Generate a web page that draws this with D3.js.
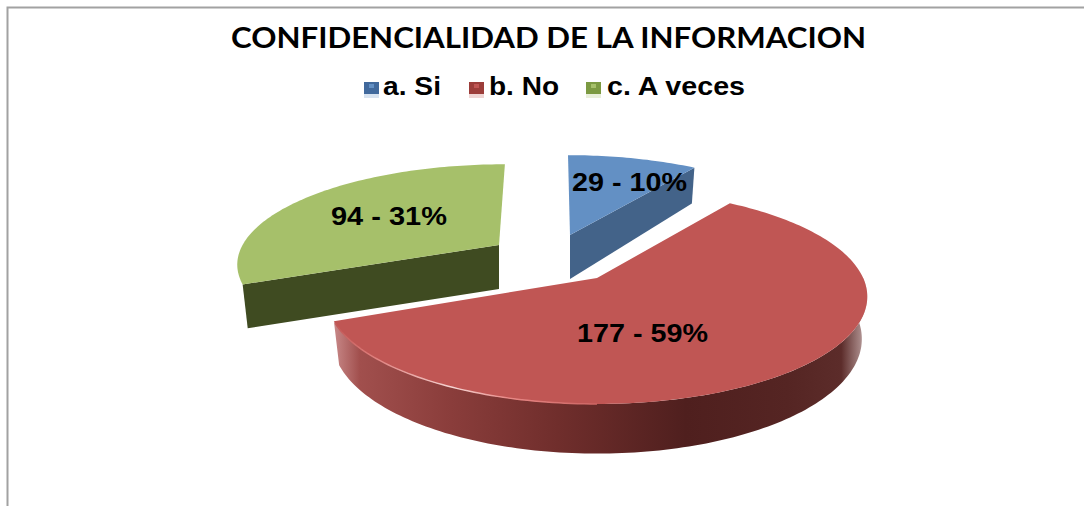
<!DOCTYPE html>
<html>
<head>
<meta charset="utf-8">
<script src="https://cdn.jsdelivr.net/npm/d3@7"></script>
<style>
  body { margin: 0; background: #fff; }
  svg { display: block; }
</style>
</head>
<body>
<div id="chart"></div>
<script>
const categories = ['a. Si', 'b. No', 'c. A veces'];
const values = [29, 177, 94];
const percents = [10, 59, 31];
const topColors = ['#6390c4', '#c05654', '#a6c06a'];
const faceColors = ['#436389', '#8a3c3a', '#3f4b21'];
const legendDark = ['#41699c', '#9c3d3a', '#7c9a42'];

const width = 1084;
const height = 506;

// where each exploded slice has its apex, and the text boxes (picture is stretched sideways)
const apex = [[570, 235], [597, 278], [499, 245]];
const stretchX = [0.96, 1.012, 0.975];
const stretchY = [0.91, 1.01, 0.92];
const shear = [-0.025, 0, 0.073];
const labelPos = [[629.5, 191, 115], [642.5, 342, 131], [389, 225, 116]];
const legendPos = [[364, 383, 58], [469, 489, 70], [586, 607, 138]];

const R = 263, Ry = 103, persp = 0.174, depth = 41;

const svg = d3.select('#chart').append('svg').attr('width', width).attr('height', height);
const defs = svg.append('defs');

// frame, only top and left show in the crop
svg.append('path').attr('d', 'M7.5,506V7.5H1084').attr('fill', 'none').attr('stroke', '#a2a2a2').attr('stroke-width', 2);

const slices = d3.pie().sort(null).value(d => d)(values);

// angle from straight up, clockwise, onto the tilted disc
function project(i, a, low) {
  const u = Math.sin(a), v = -Math.cos(a);
  const s = 1 / (1 - persp * v);
  const k = low ? 0.98 : 1;
  const y = Ry * v * s * stretchY[i];
  return [
    apex[i][0] + R * u * s * k * stretchX[i] - shear[i] * y,
    apex[i][1] + y + (low ? depth * s : 0)
  ];
}
function apexLow(i) { return [apex[i][0], apex[i][1] + depth + 3]; }

function arcPoints(i, a0, a1, low) {
  const n = Math.max(2, Math.ceil(Math.abs(a1 - a0) / 0.02));
  return d3.range(n + 1).map(j => project(i, a0 + (a1 - a0) * j / n, low));
}

const line = d3.line();
const closed = d3.line().curve(d3.curveLinearClosed);

// red outer wall shading
const wallGrad = defs.append('linearGradient').attr('id', 'wall')
  .attr('gradientUnits', 'userSpaceOnUse').attr('x1', 333).attr('x2', 868).attr('y1', 0).attr('y2', 0);
[[0, '#c98a8a'], [0.05, '#a14f4d'], [0.22, '#8a3d3b'], [0.42, '#702e2c'], [0.66, '#4f1f1e'],
 [0.85, '#552523'], [0.95, '#5c2c2a'], [0.985, '#a58584'], [1, '#e6dada']].forEach(s => {
  wallGrad.append('stop').attr('offset', s[0]).attr('stop-color', s[1]);
});
const rimGrad = defs.append('linearGradient').attr('id', 'rim')
  .attr('gradientUnits', 'userSpaceOnUse').attr('x1', 333).attr('x2', 700).attr('y1', 0).attr('y2', 0);
[[0, '#c05654'], [0.1, '#dc7a78'], [0.33, '#f6d5d3'], [0.48, '#e88886'], [0.75, '#c9605e'], [1, '#b5504e']].forEach(s => {
  rimGrad.append('stop').attr('offset', s[0]).attr('stop-color', s[1]);
});

// blue cut face
{
  const i = 0, a = slices[i].endAngle;
  svg.append('path').attr('d', closed([apex[i], project(i, a, false), project(i, a, true), apexLow(i)]))
    .attr('fill', faceColors[i]);
}
// green cut face
{
  const i = 2, a = slices[i].startAngle;
  svg.append('path').attr('d', closed([apex[i], project(i, a, false), project(i, a, true), apexLow(i)]))
    .attr('fill', faceColors[i]);
}
// red outer wall
{
  const i = 1;
  const a0 = Math.max(slices[i].startAngle, Math.PI / 2), a1 = slices[i].endAngle;
  const pts = arcPoints(i, a0, a1, false).concat(arcPoints(i, a1, a0, true));
  svg.append('path').attr('d', closed(pts)).attr('fill', 'url(#wall)');
}

// top surfaces
slices.forEach((d, i) => {
  const pts = [apex[i]].concat(arcPoints(i, d.startAngle, d.endAngle, false));
  svg.append('path').attr('d', closed(pts)).attr('fill', topColors[i]);
});

// bright lip on the front of the red slice
svg.append('path')
  .attr('d', line(arcPoints(1, Math.PI, slices[1].endAngle - 0.02, false)))
  .attr('fill', 'none').attr('stroke', 'url(#rim)').attr('stroke-width', 1.5);

// data labels
values.forEach((v, i) => {
  svg.append('text')
    .attr('x', labelPos[i][0]).attr('y', labelPos[i][1])
    .attr('text-anchor', 'middle')
    .attr('textLength', labelPos[i][2]).attr('lengthAdjust', 'spacingAndGlyphs')
    .attr('font-family', '"Liberation Sans", Arial, sans-serif')
    .attr('font-weight', 'bold').attr('font-size', 25).attr('fill', '#000')
    .text(v + ' - ' + percents[i] + '%');
});

// title
svg.append('text').attr('x', 548.5).attr('y', 48).attr('text-anchor', 'middle')
  .attr('textLength', 635).attr('lengthAdjust', 'spacingAndGlyphs')
  .attr('font-family', 'Lato, "Open Sans", sans-serif').attr('font-weight', 'bold')
  .attr('font-size', 28).attr('fill', '#000')
  .text('CONFIDENCIALIDAD DE LA INFORMACION');

// legend
categories.forEach((c, i) => {
  const g = svg.append('g');
  const mx = legendPos[i][0];
  g.append('rect').attr('x', mx).attr('y', 82).attr('width', 15).attr('height', 12).attr('fill', legendDark[i]);
  g.append('rect').attr('x', mx + 5).attr('y', 84).attr('width', 5).attr('height', 4).attr('fill', topColors[i]);
  g.append('rect').attr('x', mx).attr('y', 94).attr('width', 15).attr('height', 4).attr('fill', topColors[i]).attr('opacity', 0.25);
  g.append('text').attr('x', legendPos[i][1]).attr('y', 95)
    .attr('textLength', legendPos[i][2]).attr('lengthAdjust', 'spacingAndGlyphs')
    .attr('font-family', '"Liberation Sans", Arial, sans-serif')
    .attr('font-weight', 'bold').attr('font-size', 25).attr('fill', '#000')
    .text(c);
});
</script>
</body>
</html>
